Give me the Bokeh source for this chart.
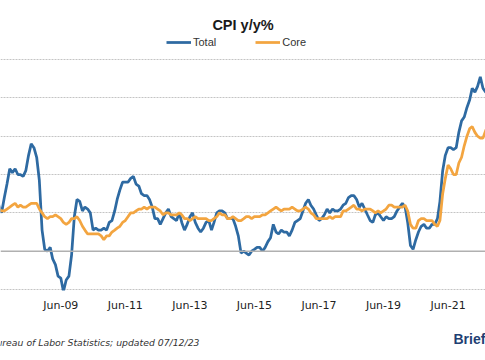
import pandas as pd
from bokeh.plotting import figure
from bokeh.layouts import column
from bokeh.models import (FixedTicker, DatetimeTickFormatter, Legend, Label, Span, Range1d)
from bokeh.embed import file_html
from bokeh.resources import INLINE

# Monthly y/y % change, Jan 2007 .. Jun 2023
first_month = "2007-01-01"
total = [2.1, 2.4, 2.8, 2.6, 2.7, 2.7, 2.4, 2.0, 2.8, 3.5, 4.3, 4.1,
         4.3, 4.0, 4.0, 3.9, 4.2, 5.0, 5.6, 5.4, 4.9, 3.7, 1.1, 0.1,
         0.0, 0.2, -0.4, -0.7, -1.3, -1.4, -2.1, -1.5, -1.3, -0.2, 1.8, 2.7,
         2.6, 2.1, 2.3, 2.2, 2.0, 1.1, 1.2, 1.1, 1.1, 1.2, 1.1, 1.5,
         1.6, 2.1, 2.7, 3.2, 3.6, 3.6, 3.6, 3.8, 3.9, 3.5, 3.4, 3.0,
         2.9, 2.9, 2.7, 2.3, 1.7, 1.7, 1.4, 1.7, 2.0, 2.2, 1.8, 1.7,
         1.6, 2.0, 1.5, 1.1, 1.4, 1.8, 2.0, 1.5, 1.2, 1.0, 1.2, 1.5,
         1.6, 1.1, 1.5, 2.0, 2.1, 2.1, 2.0, 1.7, 1.7, 1.7, 1.3, 0.8,
         -0.1, 0.0, -0.1, -0.2, 0.0, 0.1, 0.2, 0.2, 0.0, 0.2, 0.5, 0.7,
         1.4, 1.0, 0.9, 1.1, 1.0, 1.0, 0.8, 1.1, 1.5, 1.6, 1.7, 2.1,
         2.5, 2.7, 2.4, 2.2, 1.9, 1.6, 1.7, 1.9, 2.2, 2.0, 2.2, 2.1,
         2.1, 2.2, 2.4, 2.5, 2.8, 2.9, 2.9, 2.7, 2.3, 2.5, 2.2, 1.9,
         1.6, 1.5, 1.9, 2.0, 1.8, 1.6, 1.8, 1.7, 1.7, 1.8, 2.1, 2.3,
         2.5, 2.3, 1.5, 0.3, 0.1, 0.6, 1.0, 1.3, 1.4, 1.2, 1.2, 1.4,
         1.4, 1.7, 2.6, 4.2, 5.0, 5.4, 5.4, 5.3, 5.4, 6.2, 6.8, 7.0,
         7.5, 7.9, 8.5, 8.3, 8.6, 9.1, 8.5, 8.3, 8.2, 7.7, 7.1, 6.5,
         6.4, 6.0, 5.0, 4.9, 4.0, 3.0]
core = [2.7, 2.7, 2.5, 2.3, 2.2, 2.2, 2.2, 2.1, 2.1, 2.2, 2.3, 2.4,
        2.5, 2.3, 2.4, 2.3, 2.3, 2.4, 2.5, 2.5, 2.5, 2.2, 2.0, 1.8,
        1.7, 1.8, 1.8, 1.9, 1.8, 1.7, 1.5, 1.4, 1.5, 1.7, 1.7, 1.8,
        1.6, 1.3, 1.1, 0.9, 0.9, 0.9, 0.9, 0.9, 0.8, 0.6, 0.8, 0.8,
        1.0, 1.1, 1.2, 1.3, 1.5, 1.6, 1.8, 2.0, 2.0, 2.1, 2.2, 2.2,
        2.3, 2.2, 2.3, 2.3, 2.3, 2.2, 2.1, 1.9, 2.0, 2.0, 1.9, 1.9,
        1.9, 2.0, 1.9, 1.7, 1.7, 1.6, 1.7, 1.8, 1.7, 1.7, 1.7, 1.7,
        1.6, 1.6, 1.7, 1.8, 2.0, 1.9, 1.9, 1.7, 1.7, 1.8, 1.7, 1.6,
        1.6, 1.7, 1.8, 1.8, 1.7, 1.8, 1.8, 1.8, 1.9, 1.9, 2.0, 2.1,
        2.2, 2.3, 2.2, 2.1, 2.2, 2.2, 2.2, 2.3, 2.2, 2.1, 2.1, 2.2,
        2.3, 2.2, 2.0, 1.9, 1.7, 1.7, 1.7, 1.7, 1.7, 1.8, 1.7, 1.8,
        1.8, 1.8, 2.1, 2.1, 2.2, 2.3, 2.4, 2.2, 2.2, 2.1, 2.2, 2.2,
        2.2, 2.1, 2.0, 2.1, 2.0, 2.1, 2.2, 2.4, 2.4, 2.3, 2.3, 2.3,
        2.3, 2.4, 2.1, 1.4, 1.2, 1.2, 1.6, 1.7, 1.7, 1.6, 1.6, 1.6,
        1.4, 1.3, 1.6, 3.0, 3.8, 4.5, 4.3, 4.0, 4.0, 4.6, 4.9, 5.5,
        6.0, 6.4, 6.5, 6.2, 6.0, 5.9, 5.9, 6.3, 6.6, 6.3, 6.0, 5.7,
        5.6, 5.5, 5.6, 5.5, 5.3, 4.8]
tick_labels = ["Jun-07", "Jun-09", "Jun-11", "Jun-13", "Jun-15",
               "Jun-17", "Jun-19", "Jun-21", "Jun-23"]
grid_values = [-2, 2, 4, 6, 8, 10]
source_text = "Source: Bureau of Labor Statistics; updated 07/12/23"
logo_text = "Briefing.com"

dates = pd.date_range(first_month, periods=len(total), freq="MS")
tick_dates = [pd.to_datetime(t, format="%b-%y") for t in tick_labels]

W = 485
H_MAIN, H_FOOT = 316, 44
TOP, BOTTOM = 37, 26
px_per_day = 64.5 / 730.0
x_start = tick_dates[1] - pd.Timedelta(days=60.3 / px_per_day)
x_end = x_start + pd.Timedelta(days=W / px_per_day)
px_per_unit = 19.17
frame_h = H_MAIN - TOP - BOTTOM
y_start = -2.05
y_end = y_start + frame_h / px_per_unit

p = figure(width=W, height=H_MAIN, output_backend="svg", toolbar_location=None,
           x_axis_type="datetime",
           x_range=Range1d(x_start, x_end), y_range=Range1d(y_start, y_end),
           min_border_left=0, min_border_right=0,
           min_border_top=TOP, min_border_bottom=BOTTOM,
           title="CPI y/y%")
p.outline_line_color = None
p.background_fill_color = "white"
p.border_fill_color = "white"

p.title.align = "center"
p.title.text_font = "Liberation Sans"
p.title.text_font_size = "14.5px"
p.title.text_font_style = "bold"
p.title.text_color = "#1a1a1a"

p.yaxis.visible = False
p.xgrid.visible = False
p.ygrid.ticker = FixedTicker(ticks=grid_values)
p.ygrid.grid_line_color = "#c4c4c4"
p.ygrid.grid_line_dash = "2 1"
p.ygrid.grid_line_width = 1

zero = Span(location=0, dimension="width", line_color="#b0b0b0", line_width=1.6)
p.add_layout(zero)

xa = p.xaxis[0]
xa.ticker = FixedTicker(ticks=[d.value // 10**6 for d in tick_dates])
fmt = "%b-%y"
xa.formatter = DatetimeTickFormatter(years=fmt, months=fmt, days=fmt, hours=fmt)
xa.axis_line_color = None
xa.major_tick_line_color = None
xa.minor_tick_line_color = None
xa.major_tick_out = 0
xa.major_tick_in = 0
xa.minor_tick_out = 0
xa.minor_tick_in = 0
xa.major_label_text_font = "DejaVu Sans"
xa.major_label_text_font_size = "11px"
xa.major_label_text_color = "#222222"
xa.major_label_standoff = 8

r_total = p.line(dates, total, line_color="#2e6aa2", line_width=2.75)
r_core = p.line(dates, core, line_color="#f3a540", line_width=2.75)

legend = Legend(items=[("Total", [r_total]), ("Core", [r_core])],
                orientation="horizontal", location=(166, frame_h - 49 + TOP),
                glyph_width=25, glyph_height=14, label_standoff=2, spacing=39,
                padding=0, margin=0, border_line_color=None,
                background_fill_alpha=0,
                label_text_font="Liberation Sans", label_text_font_size="11px",
                label_text_color="#333333")
p.add_layout(legend, "center")

foot = figure(width=W, height=H_FOOT, output_backend="svg", toolbar_location=None,
              x_range=Range1d(0, W), y_range=Range1d(0, H_FOOT),
              x_axis_location=None, y_axis_location=None,
              min_border=0)
foot.outline_line_color = None
foot.grid.visible = False
foot.add_layout(Label(x=199, y=18, text=source_text,
                      text_font="DejaVu Sans", text_font_style="italic",
                      text_font_size="9.3px", text_color="#333333",
                      text_align="right", text_baseline="middle"))
foot.add_layout(Label(x=453, y=22, text=logo_text, text_font="Liberation Sans",
                      text_font_style="bold", text_font_size="14px",
                      text_color="#1f3f73", text_align="left",
                      text_baseline="middle"))

open("out.html", "w").write(file_html(column(p, foot, spacing=0), INLINE))
